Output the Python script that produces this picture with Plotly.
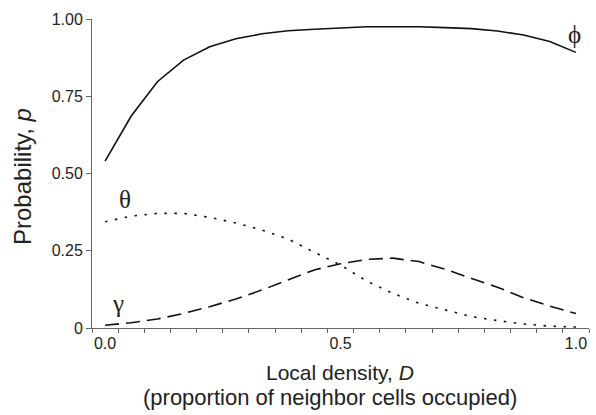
import plotly.graph_objects as go

# Local density D: 19 evenly spaced categories from 0 to 1
D = [k / 18 for k in range(19)]

phi = [0.540, 0.686, 0.797, 0.867, 0.910, 0.936, 0.952, 0.962, 0.967, 0.972,
       0.975, 0.975, 0.975, 0.972, 0.969, 0.961, 0.948, 0.927, 0.892]
theta = [0.344, 0.362, 0.371, 0.371, 0.358, 0.340, 0.317, 0.288, 0.245, 0.204,
         0.152, 0.112, 0.080, 0.058, 0.037, 0.024, 0.013, 0.006, 0.003]
gamma = [0.009, 0.017, 0.029, 0.047, 0.069, 0.094, 0.123, 0.155, 0.188, 0.208,
         0.222, 0.226, 0.215, 0.190, 0.161, 0.132, 0.098, 0.071, 0.047]

x_tickvals = [0.0, 0.5, 1.0]
x_ticktext = ["0.0", "0.5", "1.0"]
y_tickvals = [0, 0.25, 0.5, 0.75, 1.0]
y_ticktext = ["0", "0.25", "0.50", "0.75", "1.00"]
minor_ticks = [(k + 0.5) / 18 for k in range(-1, 19)]

fig = go.Figure()
fig.add_trace(go.Scatter(x=D, y=phi, mode="lines", name="ϕ",
                         line=dict(color="#111", width=1.6, dash="solid")))
fig.add_trace(go.Scatter(x=D, y=theta, mode="lines", name="θ",
                         line=dict(color="#111", width=1.6, dash="2.5px,7.5px")))
fig.add_trace(go.Scatter(x=D, y=gamma, mode="lines", name="γ",
                         line=dict(color="#111", width=1.6, dash="14px,7px")))

greek = dict(family="Liberation Serif, DejaVu Serif, serif", size=25, color="#222")
fig.add_annotation(x=0.998, y=0.951, text="ϕ", showarrow=False, xanchor="center",
                   yanchor="middle", font=greek)
fig.add_annotation(x=0.042, y=0.417, text="θ", showarrow=False, xanchor="center",
                   yanchor="middle", font=greek)
fig.add_annotation(x=0.028, y=0.080, text="γ", showarrow=False, xanchor="center",
                   yanchor="middle", font=greek)

sans = "Liberation Sans, Arial, sans-serif"
# Axis titles
fig.add_annotation(xref="paper", yref="paper", x=0.499, y=-0.145,
                   text="Local density, <i>D</i>", showarrow=False,
                   xanchor="center", yanchor="middle",
                   font=dict(family=sans, size=21, color="#222"))
fig.add_annotation(xref="paper", yref="paper", x=0.478, y=-0.225,
                   text="(proportion of neighbor cells occupied)", showarrow=False,
                   xanchor="center", yanchor="middle",
                   font=dict(family=sans, size=22, color="#222"))
fig.add_annotation(xref="paper", yref="paper", x=-0.14, y=0.49,
                   text="Probability, <i>p</i>", showarrow=False, textangle=-90,
                   xanchor="center", yanchor="middle",
                   font=dict(family=sans, size=24, color="#222"))

fig.update_layout(
    width=596, height=415,
    margin=dict(l=92, r=7, t=19, b=87),
    paper_bgcolor="white", plot_bgcolor="white",
    showlegend=False,
    font=dict(family=sans, size=16, color="#222"),
    xaxis=dict(
        range=[-0.5 / 18, 18.5 / 18],
        automargin=False,
        tickvals=x_tickvals, ticktext=x_ticktext,
        ticks="outside", ticklen=1, tickcolor="rgba(0,0,0,0)",
        showline=True, linecolor="#666", linewidth=1,
        showgrid=False, zeroline=False,
        minor=dict(tickvals=minor_ticks, ticks="outside", ticklen=4,
                   tickcolor="#666", tickwidth=1, showgrid=False),
    ),
    yaxis=dict(
        range=[0, 1.0],
        automargin=False,
        tickvals=y_tickvals, ticktext=y_ticktext,
        ticks="outside", ticklen=5, tickcolor="#666", tickwidth=1,
        showline=True, linecolor="#666", linewidth=1,
        showgrid=False, zeroline=False,
    ),
)

fig.write_html("out.html", config={"displayModeBar": False},
               post_script="document.body.style.margin='0';document.body.style.overflow='hidden';")
